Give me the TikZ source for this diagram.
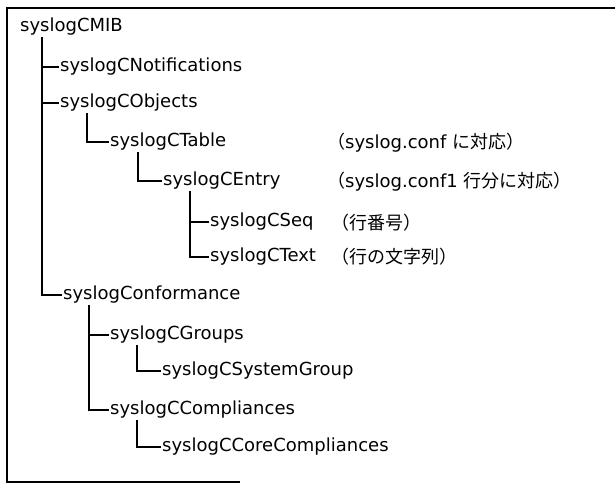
\documentclass[tikz,border=0pt]{standalone}
\usepackage{fontspec}
\setmainfont{DejaVu Sans}
\newfontfamily\jpfont{Noto Sans CJK JP}
\usetikzlibrary{positioning}

\begin{document}
\begin{tikzpicture}
  [x=1pt, y=-1pt,
    item/.style={
      anchor=west, inner sep=1pt,
      font=\fontsize{18}{20}\selectfont
    },
    note/.style={
      anchor=west, inner sep=0pt,
      font=\fontsize{18}{20}\selectfont
    },
    branch/.style={
      draw=black, line width=1.3pt
    },
    frame/.style={
      draw=black, line width=1.6pt
    }
  ]
  \useasboundingbox (0,0) rectangle (615,484);
  \draw[frame] (615,8) -- (7,8) -- (7,482) -- (240,482);

  \node[item] (mib) at (19,27) {syslogCMIB};
  \node[item] (notif) at (59,67) {syslogCNotifications};
  \node[item] (objs) at (59,103) {syslogCObjects};
  \node[item] (table) at (109,142) {syslogCTable};
  \node[item] (entry) at (162,181) {syslogCEntry};
  \node[item] (seq) at (209,222) {syslogCSeq};
  \node[item] (text) at (209,257) {syslogCText};
  \node[item] (conf) at (62,295) {syslogConformance};
  \node[item] (groups) at (109,335) {syslogCGroups};
  \node[item] (sysgrp) at (161,371) {syslogCSystemGroup};
  \node[item] (compl) at (109,410) {syslogCCompliances};
  \node[item] (core) at (161,447) {syslogCCoreCompliances};

  \node[note] (tablenote) at (327,143) {{\jpfont （}syslog.conf {\jpfont に対応）}};
  \node[note] (entrynote) at (327,182) {{\jpfont （}syslog.conf1 {\jpfont 行分に対応）}};
  \node[note] (seqnote) at (331,223) {\jpfont （行番号）};
  \node[note] (textnote) at (331,257) {\jpfont （行の文字列）};

  \draw[branch] ([xshift=23pt]mib.south west) |- (notif.west);
  \draw[branch] ([xshift=23pt]mib.south west) |- (objs.west);
  \draw[branch] ([xshift=23pt]mib.south west) |- (conf.west);
  \draw[branch] ([xshift=28pt]objs.south west) |- (table.west);
  \draw[branch] ([xshift=29pt]table.south west) |- (entry.west);
  \draw[branch] ([xshift=28pt]entry.south west) |- (seq.west);
  \draw[branch] ([xshift=28pt]entry.south west) |- (text.west);
  \draw[branch] ([xshift=27pt]conf.south west) |- (groups.west);
  \draw[branch] ([xshift=27pt]conf.south west) |- (compl.west);
  \draw[branch] ([xshift=28pt]groups.south west) |- (sysgrp.west);
  \draw[branch] ([xshift=28pt]compl.south west) |- (core.west);
\end{tikzpicture}
\end{document}
